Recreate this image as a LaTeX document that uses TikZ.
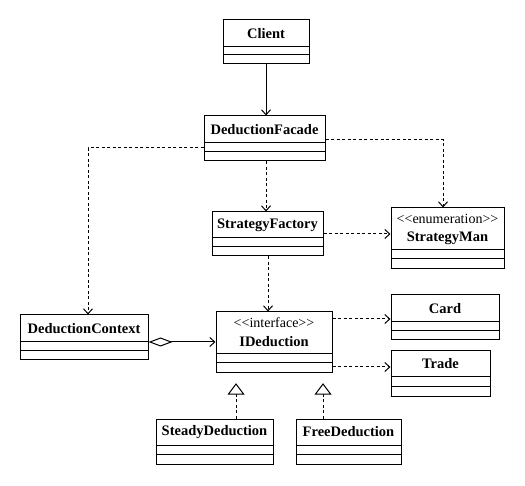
\documentclass[tikz,border=0pt]{standalone}
\usepackage{fontspec}
\setmainfont{Liberation Serif}
\usetikzlibrary{arrows.meta,calc}
\tikzset{
  umlbox/.style={draw,line width=1pt,inner sep=0pt,fill=white},
  title/.style={inner sep=0pt,font=\fontsize{14.5}{16}\selectfont\bfseries},
  stereo/.style={inner sep=0pt,font=\fontsize{14}{15}\selectfont},
  dep/.style={line width=1pt,dash pattern=on 3pt off 2.5pt,-{Straight Barb[length=5pt,width=9pt,line width=1pt]}},
  depline/.style={line width=1pt,dash pattern=on 3pt off 2.5pt},
  assoc/.style={line width=1pt,-{Straight Barb[length=5pt,width=9pt,line width=1pt]}},
  aggr/.style={line width=1pt,{Diamond[open,length=24pt,width=9pt,line width=1pt]}-{Straight Barb[length=5pt,width=9pt,line width=1pt]}},
  gentri/.style={line width=1pt,line join=miter,fill=white},
}
% name, x1, y1, x2, y2, line1, line2, title
\newcommand\umlclass[8]{%
  \node[umlbox,minimum width={(#4-#2)*1pt},minimum height={(#5-#3)*1pt}] (#1) at ({(#2+#4)/2},{(#3+#5)/2}) {};
  \draw[line width=1pt] (#2,#6) -- (#4,#6) (#2,#7) -- (#4,#7);
  \node[title] (#1-t) at ({(#2+#4)/2},{(#3+#6)/2}) {#8};
}
% name, x1, y1, x2, y2, line1, line2, stereotype, title
\newcommand\umlsclass[9]{%
  \node[umlbox,minimum width={(#4-#2)*1pt},minimum height={(#5-#3)*1pt}] (#1) at ({(#2+#4)/2},{(#3+#5)/2}) {};
  \draw[line width=1pt] (#2,#6) -- (#4,#6) (#2,#7) -- (#4,#7);
  \node[stereo] (#1-s) at ({(#2+#4)/2},{#3+11}) {#8};
  \node[title] (#1-t) at ({(#2+#4)/2},{#3+30}) {#9};
}
\begin{document}
\begin{tikzpicture}[x=1pt,y=-1pt]
\useasboundingbox (0,0) rectangle (525,486);
\umlclass{client}{223}{20}{309}{64}{47}{55}{Client}
\umlclass{facade}{204}{116}{325}{161}{143}{152}{DeductionFacade}
\umlclass{factory}{212}{212}{323}{256}{238}{247}{StrategyFactory}
\umlsclass{sman}{391}{208}{504}{269}{250}{259}{<{}<enumeration>{}>}{StrategyMan}
\umlclass{context}{20}{315}{148}{360}{342}{351}{DeductionContext}
\umlsclass{ided}{216}{312}{332}{373}{354}{363}{<{}<interface>{}>}{IDeduction}
\umlclass{card}{391}{295}{499}{340}{322}{331}{Card}
\umlclass{trade}{391}{351}{490}{396}{377}{387}{Trade}
\umlclass{steady}{156}{419}{273}{464}{445}{454}{SteadyDeduction}
\umlclass{free}{296}{419}{401}{464}{445}{454}{FreeDeduction}

\coordinate (xa) at (266,0);
\coordinate (xb) at (268,0);
\coordinate (xc) at (88,0);
\coordinate (xd) at (443,0);
\coordinate (xe) at (236,0);
\coordinate (xf) at (323,0);
\coordinate (ya) at (0,148);
\coordinate (yb) at (0,140);
\coordinate (yc) at (0,234);
\coordinate (yd) at (0,342);
\coordinate (ye) at (0,319);
\coordinate (yf) at (0,367);
\coordinate (yg) at (0,394);

\draw[assoc] (xa |- client.south) -- (xa |- facade.north);
\draw[dep] (facade.west |- ya) -| (xc |- context.north);
\draw[dep] (facade.east |- yb) -| (xd |- sman.north);
\draw[dep] (xa |- facade.south) -- (xa |- factory.north);
\draw[dep] (factory.east |- yc) -- (sman.west |- yc);
\draw[dep] (xb |- factory.south) -- (xb |- ided.north);
\draw[aggr] (context.east |- yd) -- (ided.west |- yd);
\draw[dep] (ided.east |- ye) -- (card.west |- ye);
\draw[dep] (ided.east |- yf) -- (trade.west |- yf);
\draw[depline] (xe |- steady.north) -- (xe |- yg) coordinate (t1);
\draw[depline] (xf |- free.north) -- (xf |- yg) coordinate (t2);
\draw[gentri] (t1) ++(-7.5,0) -- ++(7.5,-10) -- ++(7.5,10) -- cycle;
\draw[gentri] (t2) ++(-7.5,0) -- ++(7.5,-10) -- ++(7.5,10) -- cycle;
\end{tikzpicture}
\end{document}
